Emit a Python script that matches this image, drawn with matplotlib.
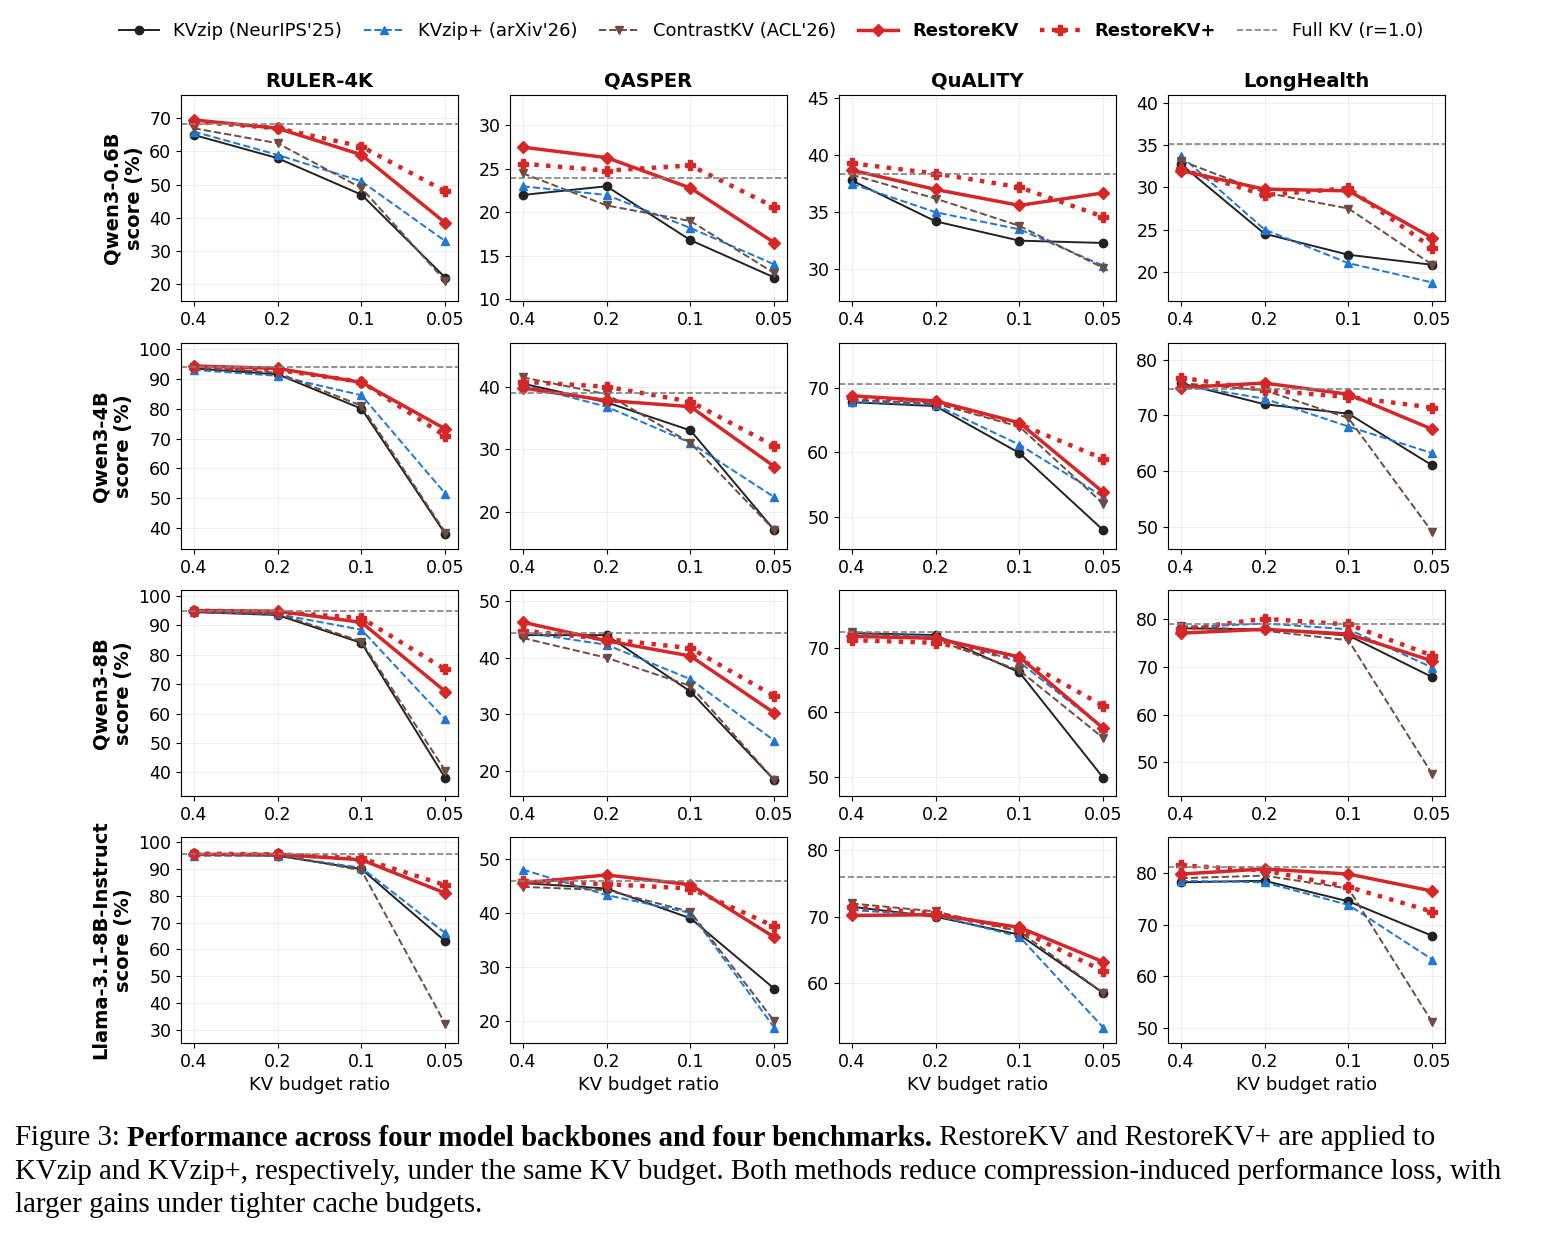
import numpy as np
import matplotlib
matplotlib.use('Agg')
import matplotlib.pyplot as plt
from matplotlib.ticker import MultipleLocator

ratios = ['0.4', '0.2', '0.1', '0.05']
benchmarks = ['RULER-4K', 'QASPER', 'QuALITY', 'LongHealth']
models = ['Qwen3-0.6B', 'Qwen3-4B', 'Qwen3-8B', 'Llama-3.1-8B-Instruct']

# per model: per benchmark values
kvzip = [
    [[65, 58, 47, 22], [22, 23, 16.8, 12.5], [37.8, 34.2, 32.5, 32.3], [32.8, 24.5, 22, 20.8]],
    [[93.5, 91.5, 80, 38], [40.5, 37.5, 33, 17], [67.8, 67.2, 59.9, 47.9], [75.8, 72, 70.3, 61]],
    [[94.5, 93.5, 84, 38], [44, 44, 34, 18.3], [72.3, 72, 66.2, 49.8], [78, 77.8, 76.5, 67.8]],
    [[95.5, 95, 90, 63], [45.5, 44.5, 39, 26], [71.5, 70, 67.3, 58.5], [78.2, 78.5, 74.5, 67.8]],
]
kvzip_plus = [
    [[66, 59, 51, 33], [23, 22, 18.2, 14], [37.5, 35, 33.5, 30.3], [33.8, 25, 21, 18.7]],
    [[93, 91, 84.5, 51.5], [40.3, 36.8, 31, 22.3], [67.9, 67.4, 61.2, 53.1], [75.5, 73, 68, 63.2]],
    [[94.5, 93.8, 88.5, 58], [44.5, 42.3, 36.2, 25.3], [72.2, 71.8, 67.8, 57.5], [78.2, 79, 77.8, 69.8]],
    [[95, 95, 90.5, 66], [48, 43.3, 40, 18.8], [71, 70.2, 67, 53.3], [78.5, 78.2, 73.8, 63.2]],
]
contrastkv = [
    [[67, 62.5, 49, 21], [24.5, 20.8, 19, 13], [38.3, 36.2, 33.8, 30.1], [33.2, 29.4, 27.5, 20.8]],
    [[94, 92, 81, 38.5], [41.5, 38.8, 31, 17], [68.2, 67.6, 64, 52], [75.8, 74.5, 69.5, 49]],
    [[95, 94, 84.5, 40.5], [43.5, 40, 35, 18.3], [72.5, 71.3, 66.5, 56], [78.5, 77.5, 75.5, 47.5]],
    [[95.8, 95.5, 89.5, 32], [44.8, 44.2, 40.2, 20], [72, 70.8, 67.8, 58.5], [79, 79.5, 77, 51]],
]
restorekv = [
    [[69.5, 67, 59, 38.5], [27.5, 26.3, 22.8, 16.5], [38.7, 37, 35.6, 36.7], [32, 29.8, 29.6, 24]],
    [[94.3, 93.5, 88.8, 73.2], [39.8, 37.8, 36.8, 27.2], [68.8, 68, 64.6, 53.8], [75, 75.8, 73.8, 67.5]],
    [[95, 94.8, 91, 67.5], [46.3, 43, 40.3, 30.2], [71.8, 71.5, 68.6, 57.5], [77, 77.8, 76.8, 71.2]],
    [[95.5, 95.5, 93.5, 81], [45.5, 47, 45.2, 35.5], [70.2, 70.3, 68.4, 63.2], [79.8, 80.8, 79.8, 76.5]],
]
restorekv_plus = [
    [[69, 67, 61.5, 48], [25.6, 24.8, 25.4, 20.6], [39.3, 38.4, 37.2, 34.6], [32.2, 29.1, 29.9, 22.8]],
    [[94, 93, 89, 70.8], [40.8, 40, 37.6, 30.5], [68.6, 67.9, 64.4, 59], [76.8, 74.5, 73.3, 71.4]],
    [[95, 94.5, 92.5, 75], [44.8, 43.3, 41.7, 33.2], [71.2, 70.8, 68.3, 61], [77.8, 80, 78.8, 72.3]],
    [[95.8, 95.5, 94, 84], [45.8, 45.3, 44.5, 37.5], [71.5, 70.5, 68, 61.8], [81.5, 80.5, 77.3, 72.5]],
]
full_kv = [
    [68.3, 24, 38.4, 35.2],
    [94, 39, 70.6, 74.8],
    [94.8, 44.3, 72.4, 78.8],
    [95.8, 45.8, 76, 81.2],
]
ylims = [
    [(15, 77), (9.8, 33.5), (27.2, 45.3), (16.5, 41)],
    [(33, 102), (14, 47), (45, 77), (46, 83)],
    [(32, 102), (15.5, 52), (47, 79), (43, 86)],
    [(25, 102), (16, 54), (51, 82), (47, 87)],
]

styles = [
    ("KVzip (NeurIPS'25)", kvzip, dict(color='#222222', ls='-', lw=1.4, marker='o', ms=6)),
    ("KVzip+ (arXiv'26)", kvzip_plus, dict(color='#1f77d4', ls='--', lw=1.4, marker='^', ms=6)),
    ("ContrastKV (ACL'26)", contrastkv, dict(color='#6d4c41', ls='--', lw=1.4, marker='v', ms=6)),
    ("RestoreKV", restorekv, dict(color='#d62728', ls='-', lw=2.5, marker='D', ms=6)),
    ("RestoreKV+", restorekv_plus, dict(color='#d62728', ls=':', lw=3.2, marker='P', ms=7)),
]

W, H = 1542, 1235
fig = plt.figure(figsize=(W / 100, H / 100), dpi=100)
lefts = [181, 510, 839, 1168]
tops = [95, 343, 590, 837]
aw, ah = 277, 206
x = np.arange(len(ratios))
handles = []
for r in range(4):
    for c in range(4):
        ax = fig.add_axes([lefts[c] / W, 1 - (tops[r] + ah) / H, aw / W, ah / H])
        for name, data, st in styles:
            h, = ax.plot(x, data[r][c], label=name, **st)
            if r == 0 and c == 0:
                handles.append(h)
        fh = ax.axhline(full_kv[r][c], color='gray', ls='--', lw=1.2, label='Full KV (r=1.0)')
        if r == 0 and c == 0:
            handles.append(fh)
        ax.set_xticks(x)
        ax.set_xticklabels(ratios, fontsize=12.5)
        ax.tick_params(axis='y', labelsize=12.5)
        ax.set_xlim(-0.15, 3.15)
        ax.set_ylim(*ylims[r][c])
        if c == 0:
            ax.yaxis.set_major_locator(MultipleLocator(10))
        ax.grid(True, color='#eeeeee', lw=0.8)
        if r == 0:
            ax.set_title(benchmarks[c], fontsize=14, fontweight='bold')
        if r == 3:
            ax.set_xlabel('KV budget ratio', fontsize=13)
        if c == 0:
            ax.set_ylabel(models[r] + '\nscore (%)', fontsize=14, fontweight='bold')

leg = fig.legend(handles=handles, loc='upper center', bbox_to_anchor=(0.5, 0.995), ncol=6,
                 frameon=False, fontsize=13, handlelength=2.2, columnspacing=1.2)
for t in leg.get_texts():
    if t.get_text().startswith('RestoreKV'):
        t.set_fontweight('bold')

# caption
serif = ['Liberation Serif', 'DejaVu Serif']
fs = 20.8
y0 = 1 - 1138 / H
t1 = fig.text(15 / W, y0, 'Figure 3: ', fontsize=fs, family=serif, va='center')
fig.canvas.draw()
rend = fig.canvas.get_renderer()
bb = t1.get_window_extent(rend)
t2 = fig.text(bb.x1 / W, y0, 'Performance across four model backbones and four benchmarks.',
              fontsize=fs, family=serif, fontweight='bold', va='center')
bb = t2.get_window_extent(rend)
fig.text(bb.x1 / W, y0, ' RestoreKV and RestoreKV+ are applied to', fontsize=fs, family=serif, va='center')
fig.text(15 / W, 1 - 1172 / H, 'KVzip and KVzip+, respectively, under the same KV budget. Both methods reduce compression-induced performance loss, with',
         fontsize=fs, family=serif, va='center')
fig.text(15 / W, 1 - 1205 / H, 'larger gains under tighter cache budgets.', fontsize=fs, family=serif, va='center')

fig.savefig('out.png', dpi=100)
